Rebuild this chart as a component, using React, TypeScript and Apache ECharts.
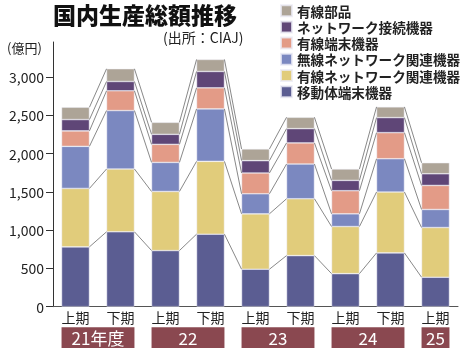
import React, { useEffect, useRef } from "react";
import * as echarts from "echarts";

const periods = ["上期", "下期", "上期", "下期", "上期", "下期", "上期", "下期", "上期"];
const mobile = [782, 979, 734, 948, 490, 668, 432, 703, 385];
const wiredNetwork = [764, 821, 772, 952, 724, 743, 616, 796, 650];
const wirelessNetwork = [550, 764, 380, 686, 262, 454, 166, 435, 236];
const wiredTerminal = [202, 258, 236, 275, 272, 276, 302, 341, 314];
const networkConnection = [148, 122, 131, 214, 161, 187, 135, 197, 153];
const wiredParts = [161, 166, 157, 157, 153, 148, 149, 140, 144];

const seriesNames = [
  "移動体端末機器",
  "有線ネットワーク関連機器",
  "無線ネットワーク関連機器",
  "有線端末機器",
  "ネットワーク接続機器",
  "有線部品",
];
const seriesValues = [mobile, wiredNetwork, wirelessNetwork, wiredTerminal, networkConnection, wiredParts];
const seriesColors = ["#5B5D92", "#E1CC7B", "#7B88C0", "#E39B87", "#5F4677", "#ADA497"];

const fiscalYears = ["21年度", "22", "23", "24", "25"];
const yearStart = [0, 2, 4, 6, 8];
const yearEnd = [1, 3, 5, 7, 8];
const yTicks = [0, 500, 1000, 1500, 2000, 2500, 3000];

const FONT = "'Noto Sans CJK JP', 'Noto Sans', sans-serif";
const BAR_RATIO = 0.31;

function levels(i: number): number[] {
  const out: number[] = [];
  let acc = 0;
  for (const arr of seriesValues) {
    acc += arr[i];
    out.push(acc);
  }
  return out;
}

export default function App() {
  const ref = useRef<HTMLDivElement>(null);
  useEffect(() => {
    if (!ref.current) return;
    const chart = echarts.init(ref.current, null, { renderer: "svg" });
    const barSeries = seriesNames.map((name, k) => ({
      name,
      type: "bar",
      stack: "total",
      barWidth: "62%",
      data: seriesValues[k],
      itemStyle: { color: seriesColors[k], borderColor: "rgba(235,235,245,0.8)", borderWidth: 0.6 },
      silent: true,
    }));
    const gapData = periods.slice(0, periods.length - 1).map((_, i) => [i, 0]);
    const yearData = fiscalYears.map((_, k) => [yearStart[k], yearEnd[k], k]);
    chart.setOption({
      animation: false,
      title: {
        text: "国内生産総額推移",
        left: 53,
        top: 1,
        padding: 0,
        textStyle: { fontFamily: FONT, fontSize: 23, lineHeight: 25, fontWeight: 900, color: "#111" },
      },
      legend: {
        data: seriesNames.slice().reverse(),
        orient: "vertical",
        left: 280,
        top: 3.7,
        padding: 0,
        icon: "rect",
        itemWidth: 11,
        itemHeight: 11,
        itemGap: 2.2,
        selectedMode: false,
        textStyle: { fontFamily: FONT, fontSize: 13.6, lineHeight: 14, fontWeight: "bold", color: "#222" },
      },
      graphic: [
        {
          type: "text",
          x: 163,
          y: 37,
          style: { text: "(出所：CIAJ)", fontFamily: FONT, fontSize: 14, fill: "#222", verticalAlign: "middle" },
        },
        {
          type: "text",
          x: 7,
          y: 47,
          style: { text: "(億円)", fontFamily: FONT, fontSize: 13, fill: "#222", verticalAlign: "middle" },
        },
      ],
      grid: { left: 53, right: 3, top: 42, bottom: 41.3, containLabel: false },
      xAxis: {
        type: "category",
        data: periods,
        axisLine: { show: true, lineStyle: { color: "#555", width: 1 } },
        axisTick: { show: false },
        axisLabel: { fontFamily: FONT, fontSize: 14, color: "#222", margin: 3 },
      },
      yAxis: {
        type: "value",
        min: 0,
        max: 3460,
        interval: 500,
        axisLine: { show: true, lineStyle: { color: "#333", width: 1 } },
        axisTick: { show: true, length: 7, customValues: yTicks, lineStyle: { color: "#333" } },
        axisLabel: {
          customValues: yTicks,
          fontFamily: FONT,
          fontSize: 14,
          color: "#222",
          margin: 9,
          formatter: (v: number) => (v % 500 === 0 ? v.toLocaleString("en-US") : ""),
        },
        splitLine: { show: false },
      },
      series: [
        ...barSeries,
        {
          type: "custom",
          name: "connectors",
          silent: true,
          clip: false,
          z: 3,
          data: gapData,
          encode: { x: 0, y: 1 },
          renderItem: (params: any, api: any) => {
            const i = api.value(0);
            const half = api.size([1, 0])[0] * BAR_RATIO;
            const a = levels(i);
            const b = levels(i + 1);
            return {
              type: "group",
              children: a.map((va, k) => {
                const p1 = api.coord([i, va]);
                const p2 = api.coord([i + 1, b[k]]);
                return {
                  type: "line",
                  shape: { x1: p1[0] + half, y1: p1[1], x2: p2[0] - half, y2: p2[1] },
                  style: { stroke: "#555", lineWidth: 0.7 },
                };
              }),
            };
          },
        },
        {
          type: "custom",
          name: "years",
          silent: true,
          clip: false,
          data: yearData,
          encode: { x: 0, y: 2 },
          renderItem: (params: any, api: any) => {
            const s = api.coord([api.value(0), 0]);
            const e = api.coord([api.value(1), 0]);
            const idx = api.value(2);
            const half = api.size([1, 0])[0] * BAR_RATIO;
            const x1 = s[0] - half;
            const x2 = e[0] + half;
            const y = s[1] + 20.6;
            return {
              type: "group",
              children: [
                { type: "rect", shape: { x: x1, y, width: x2 - x1, height: 22 }, style: { fill: "#8A4850" } },
                {
                  type: "text",
                  x: (x1 + x2) / 2,
                  y: y + 10.3,
                  style: {
                    text: fiscalYears[idx],
                    fontFamily: FONT,
                    fontSize: 17,
                    lineHeight: 17,
                    fill: "#fff",
                    align: "center",
                    verticalAlign: "middle",
                  },
                },
              ],
            };
          },
        },
      ],
    });
    return () => chart.dispose();
  }, []);
  return <div ref={ref} style={{ position: "fixed", left: 0, top: 0, width: 461, height: 348 }} />;
}
